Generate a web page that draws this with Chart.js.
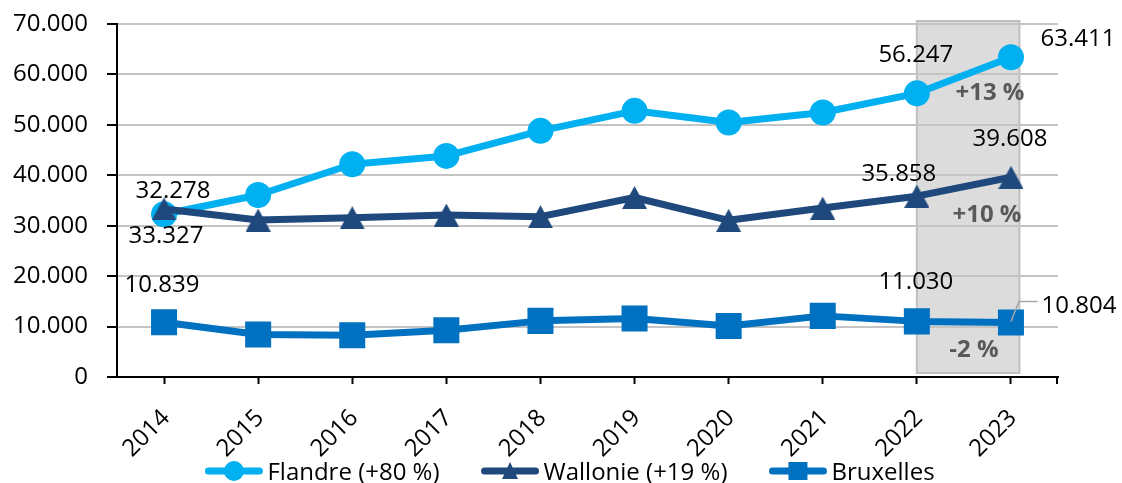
<!DOCTYPE html>
<html>
<head>
<meta charset="utf-8">
<title>Flandre, Wallonie, Bruxelles 2014-2023</title>
<script src="https://cdn.jsdelivr.net/npm/chart.js@4.4.0/dist/chart.umd.min.js"></script>
<style>
  html, body { margin: 0; padding: 0; background: #ffffff; }
  #wrap { width: 1122px; height: 483px; position: relative; }
</style>
</head>
<body>
<div id="wrap"><canvas id="c" width="1122" height="483"></canvas></div>
<script>
// ---- data ----
const years = ['2014', '2015', '2016', '2017', '2018', '2019', '2020', '2021', '2022', '2023'];
const flandre = [32278, 36090, 42190, 43840, 48810, 52780, 50460, 52450, 56247, 63411];
const wallonie = [33327, 31130, 31590, 32120, 31790, 35600, 31070, 33510, 35858, 39608];
const bruxelles = [10839, 8420, 8280, 9270, 11130, 11600, 10130, 12120, 11030, 10804];
const seriesNames = ['Flandre (+80 %)', 'Wallonie (+19 %)', 'Bruxelles'];
const yTickValues = [0, 10000, 20000, 30000, 40000, 50000, 60000, 70000];
const labelledIdx = [0, 8, 9];

// ---- styling ----
const FONT = '"Open Sans", "Noto Sans", sans-serif';
const FS = 24;
const colors = ['#00B0F0', '#1F497D', '#0070C0'];

// value label offsets (px) relative to the point, per series and index
const labelOffsets = [
  { 0: [9, -25], 8: [-1, -40], 9: [67, -20] },
  { 0: [2, 26], 8: [-18, -24], 9: [-1, -40] },
  { 0: [-2, -39], 8: [-1, -41], 9: [68, -18] }
];
// change labels (2022 -> 2023), offsets relative to the last point
const changeOffsets = [[-21, 34], [-24, 36], [-37, 26]];

function fmt(n) {
  return String(Math.round(n)).replace(/\B(?=(\d{3})+(?!\d))/g, '.');
}

// triangle marker with its bounding box centred on the value
function triangleImage(w, h, color) {
  const c = document.createElement('canvas');
  c.width = w; c.height = h;
  const g = c.getContext('2d');
  g.fillStyle = color;
  g.beginPath();
  g.moveTo(w / 2, 0);
  g.lineTo(w, h);
  g.lineTo(0, h);
  g.closePath();
  g.fill();
  return c;
}

// grey band behind the last two years (drawn beneath the grid)
const bandPlugin = {
  id: 'band',
  beforeDraw(chart) {
    const { ctx, scales: { x, y } } = chart;
    const n = years.length;
    const step = x.getPixelForValue(1) - x.getPixelForValue(0);
    const left = x.getPixelForValue(n - 2);
    const right = x.getPixelForValue(n - 1) + step * 0.09;
    const top = y.getPixelForValue(yTickValues[yTickValues.length - 1]) - 3;
    const bottom = y.getPixelForValue(0) - 4;
    ctx.save();
    ctx.fillStyle = '#dcdcdc';
    ctx.fillRect(left, top, right - left, bottom - top);
    ctx.strokeStyle = '#bfbfbf';
    ctx.lineWidth = 2;
    ctx.strokeRect(left, top, right - left, bottom - top);
    ctx.restore();
  }
};

// end tick on the right of the category axis
const axisEndPlugin = {
  id: 'axisEnd',
  afterDraw(chart) {
    const { ctx, chartArea } = chart;
    ctx.save();
    ctx.strokeStyle = '#000';
    ctx.lineWidth = 2;
    ctx.beginPath();
    ctx.moveTo(chartArea.right - 1, chartArea.bottom);
    ctx.lineTo(chartArea.right - 1, chartArea.bottom + 7);
    ctx.stroke();
    ctx.restore();
  }
};

// value labels and 2022-2023 change labels
const labelPlugin = {
  id: 'valueLabels',
  afterDatasetsDraw(chart) {
    const { ctx } = chart;
    ctx.save();
    chart.data.datasets.forEach((ds, si) => {
      const meta = chart.getDatasetMeta(si);
      labelledIdx.forEach(i => {
        const pt = meta.data[i];
        const off = labelOffsets[si][i];
        const tx = pt.x + off[0];
        const ty = pt.y + off[1];
        ctx.font = FS + 'px ' + FONT;
        ctx.fillStyle = '#000';
        ctx.textAlign = 'center';
        ctx.textBaseline = 'alphabetic';
        ctx.fillText(fmt(ds.data[i]), tx, ty + 8.5);
        // leader line for the last Bruxelles label
        if (si === 2 && i === years.length - 1) {
          const w = ctx.measureText(fmt(ds.data[i])).width;
          ctx.strokeStyle = '#a6a6a6';
          ctx.lineWidth = 1.5;
          ctx.beginPath();
          ctx.moveTo(pt.x, pt.y - 1);
          ctx.lineTo(pt.x + 8, ty - 3);
          ctx.lineTo(tx - w / 2 - 4, ty - 3);
          ctx.stroke();
        }
      });
      // change between the last two years
      const n = ds.data.length;
      const pct = Math.round((ds.data[n - 1] / ds.data[n - 2] - 1) * 100);
      const txt = (pct > 0 ? '+' : '') + pct + ' %';
      const last = meta.data[n - 1];
      const co = changeOffsets[si];
      ctx.font = 'bold ' + FS + 'px ' + FONT;
      ctx.fillStyle = '#595959';
      ctx.textAlign = 'center';
      ctx.fillText(txt, last.x + co[0], last.y + co[1] + 8.5);
    });
    ctx.restore();
  }
};

// legend: line + marker + name, centred below the axis labels
const legendPlugin = {
  id: 'lineLegend',
  afterDraw(chart) {
    const { ctx } = chart;
    const cy = 471;
    const lineLen = 57, gapText = 5, gapItem = 42;
    ctx.save();
    ctx.font = FS + 'px ' + FONT;
    const widths = seriesNames.map(s => ctx.measureText(s).width);
    const total = widths.reduce((a, w) => a + lineLen + gapText + w, 0) + gapItem * (seriesNames.length - 1);
    let x = 570 - total / 2;
    seriesNames.forEach((name, i) => {
      const col = colors[i];
      ctx.strokeStyle = col;
      ctx.lineWidth = 7;
      ctx.lineCap = 'round';
      ctx.beginPath();
      ctx.moveTo(x + 3, cy);
      ctx.lineTo(x + lineLen - 3, cy);
      ctx.stroke();
      const mx = x + lineLen / 2;
      ctx.fillStyle = col;
      ctx.beginPath();
      if (i === 0) {
        ctx.arc(mx, cy, 10, 0, Math.PI * 2);
      } else if (i === 1) {
        ctx.moveTo(mx, cy - 9);
        ctx.lineTo(mx + 8, cy + 8);
        ctx.lineTo(mx - 8, cy + 8);
        ctx.closePath();
      } else {
        ctx.rect(mx - 9.5, cy - 9, 19, 18);
      }
      ctx.fill();
      ctx.fillStyle = '#000';
      ctx.textAlign = 'left';
      ctx.textBaseline = 'alphabetic';
      ctx.fillText(name, x + lineLen + gapText, cy + 8.5);
      x += lineLen + gapText + widths[i] + gapItem;
    });
    ctx.restore();
  }
};

const seriesData = [flandre, wallonie, bruxelles];
const pointStyles = ['circle', triangleImage(25, 23, colors[1]), 'rect'];
const pointRadii = [13, 13, 18.4];
const drawOrder = [2, 1, 0]; // later series painted on top

new Chart(document.getElementById('c'), {
  type: 'line',
  data: {
    labels: years,
    datasets: seriesData.map((d, i) => ({
      label: seriesNames[i],
      data: d,
      order: drawOrder[i],
      borderColor: colors[i],
      backgroundColor: colors[i],
      borderWidth: 7,
      tension: 0,
      pointStyle: pointStyles[i],
      pointRadius: pointRadii[i],
      pointBorderWidth: 0,
      pointBackgroundColor: colors[i],
      borderJoinStyle: 'round',
      borderCapStyle: 'round'
    }))
  },
  options: {
    responsive: false,
    animation: false,
    events: [],
    layout: { padding: { top: 24, right: 64, left: 0, bottom: 0 } },
    plugins: { legend: { display: false }, tooltip: { enabled: false } },
    scales: {
      x: {
        offset: true,
        grid: { display: true, drawOnChartArea: false, offset: false, tickLength: 7, tickColor: '#000', tickWidth: 2 },
        border: { color: '#000', width: 2 },
        ticks: { maxRotation: 45, minRotation: 45, color: '#000', font: { family: FONT, size: FS }, padding: 20, labelOffset: 2 },
        afterFit(s) { s.height = 106; s.paddingLeft = 0; s.paddingRight = 0; }
      },
      y: {
        min: 0,
        max: yTickValues[yTickValues.length - 1],
        afterBuildTicks(s) { s.ticks = yTickValues.map(v => ({ value: v })); },
        grid: { color: '#c4c4c4', lineWidth: 2, tickLength: 10, tickColor: '#000', tickWidth: 2 },
        border: { color: '#000', width: 2 },
        ticks: { color: '#000', font: { family: FONT, size: FS }, padding: 19, callback: v => fmt(v) },
        afterFit(s) { s.width = 117; s.paddingTop = 0; s.paddingBottom = 0; }
      }
    }
  },
  plugins: [bandPlugin, axisEndPlugin, labelPlugin, legendPlugin]
});
</script>
</body>
</html>
